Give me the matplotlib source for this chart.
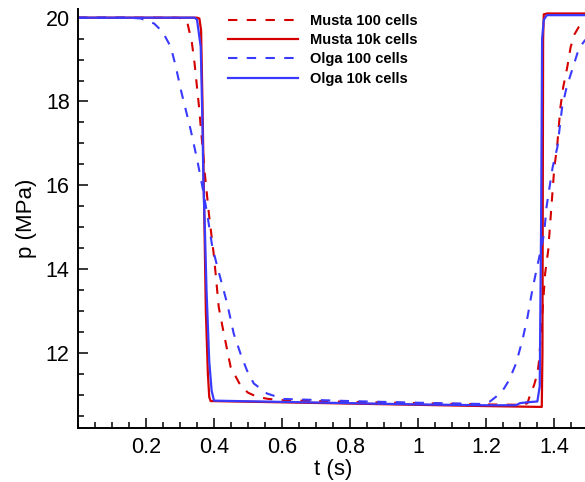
import numpy as np
import matplotlib
matplotlib.use('Agg')
import matplotlib.pyplot as plt
from matplotlib.ticker import MultipleLocator

plt.rcParams['font.family'] = ['Liberation Sans', 'DejaVu Sans']

# Musta, 100 cells (red dashed)
t_musta_100 = [0.0, 0.29, 0.312, 0.322, 0.335, 0.343, 0.349, 0.356, 0.361, 0.367, 0.373,
               0.385, 0.400, 0.414, 0.427, 0.449, 0.478, 0.500, 0.527, 0.560, 0.605,
               0.8, 1.0, 1.2, 1.31, 1.322, 1.332, 1.341, 1.351, 1.356, 1.362, 1.368,
               1.374, 1.383, 1.392, 1.401, 1.409, 1.414, 1.419, 1.427, 1.439, 1.449,
               1.460, 1.473, 1.49, 1.51]
p_musta_100 = [20.0, 20.0, 19.98, 19.87, 19.4, 18.9, 18.42, 17.87, 17.39, 16.85, 16.28,
               15.32, 14.3, 13.09, 12.54, 11.66, 11.22, 11.05, 10.95, 10.9, 10.87,
               10.83, 10.8, 10.77, 10.76, 10.8, 11.06, 11.22, 11.5, 11.8, 12.5, 13.2,
               13.9, 14.45, 15.45, 16.43, 16.91, 17.39, 17.87, 18.34, 18.82, 19.3,
               19.6, 19.78, 19.92, 19.98]

# Musta, 10k cells (red solid)
t_musta_10k = [0.0, 0.350, 0.357, 0.362, 0.366, 0.371, 0.376, 0.382, 0.386, 0.390,
               0.6, 0.8, 1.0, 1.2, 1.364, 1.366, 1.368, 1.370, 1.38, 1.51]
p_musta_10k = [20.0, 20.0, 19.98, 19.7, 18.0, 15.5, 13.0, 11.5, 10.95, 10.85,
               10.82, 10.79, 10.76, 10.73, 10.71, 12.0, 19.5, 20.08, 20.1, 20.1]

# Olga, 100 cells (blue dashed)
t_olga_100 = [0.0, 0.15, 0.185, 0.224, 0.249, 0.273, 0.288, 0.303, 0.317, 0.332, 0.351,
              0.366, 0.380, 0.395, 0.41, 0.439, 0.458, 0.478, 0.497, 0.517, 0.556,
              0.605, 0.8, 1.0, 1.19, 1.21, 1.229, 1.253, 1.268, 1.288, 1.307, 1.322,
              1.336, 1.349, 1.361, 1.371, 1.378, 1.387, 1.396, 1.410, 1.417, 1.424,
              1.437, 1.456, 1.473, 1.49, 1.51]
p_olga_100 = [20.0, 20.0, 19.98, 19.86, 19.66, 19.3, 18.82, 18.26, 17.8, 17.3, 16.59,
              15.96, 15.32, 14.53, 14.05, 13.17, 12.46, 11.98, 11.58, 11.27, 11.03,
              10.9, 10.85, 10.81, 10.78, 10.83, 10.95, 11.15, 11.35, 11.74, 12.3, 12.85,
              13.49, 14.0, 14.45, 14.85, 15.48, 15.96, 16.43, 16.91, 17.39, 17.87,
              18.34, 18.82, 19.26, 19.45, 19.6]

# Olga, 10k cells (blue solid)
t_olga_10k = [0.0, 0.343, 0.350, 0.356, 0.361, 0.366, 0.369, 0.373, 0.378, 0.386, 0.393,
              0.400, 0.6, 0.8, 1.0, 1.2, 1.288, 1.30, 1.32, 1.351, 1.358, 1.362,
              1.365, 1.370, 1.379, 1.51]
p_olga_10k = [20.0, 20.0, 19.95, 19.6, 19.3, 17.5, 16.0, 15.0, 13.5, 11.8, 11.1,
              10.86, 10.83, 10.8, 10.77, 10.75, 10.75, 10.8, 10.82, 10.84, 11.2, 15.0,
              19.5, 19.95, 20.06, 20.06]

labels = ['Musta 100 cells', 'Musta 10k cells', 'Olga 100 cells', 'Olga 10k cells']

red = '#d40000'
blue = '#3a3aff'

fig = plt.figure(figsize=(5.85, 4.82), dpi=100)
ax = fig.add_axes([78 / 585, 1 - 428.3 / 482, 510 / 585, 419 / 482])

ax.plot(t_musta_100, p_musta_100, color=red, lw=1.5, dashes=(4.5, 4.5), label=labels[0])
ax.plot(t_musta_10k, p_musta_10k, color=red, lw=1.6, label=labels[1])
ax.plot(t_olga_100, p_olga_100, color=blue, lw=1.5, dashes=(4.5, 4.5), label=labels[2])
ax.plot(t_olga_10k, p_olga_10k, color=blue, lw=1.6, label=labels[3])

ax.set_xlim(0, 1.5)
ax.set_ylim(10.2, 20.2)
ax.set_xticks([0.2, 0.4, 0.6, 0.8, 1.0, 1.2, 1.4])
ax.set_xticklabels(['0.2', '0.4', '0.6', '0.8', '1', '1.2', '1.4'])
ax.xaxis.set_minor_locator(MultipleLocator(0.05))
ax.set_yticks([12, 14, 16, 18, 20])
ax.yaxis.set_minor_locator(MultipleLocator(0.5))

ax.spines['top'].set_visible(False)
ax.spines['right'].set_visible(False)
for s in ['left', 'bottom']:
    ax.spines[s].set_linewidth(1.4)
ax.tick_params(which='both', direction='in', width=1.1, labelsize=15.5, pad=6)
ax.tick_params(which='major', length=7)
ax.tick_params(which='minor', length=4.3)

ax.set_xlabel('t (s)', fontsize=16, labelpad=1)
ax.set_ylabel('p (MPa)', fontsize=16, labelpad=6)

ax.legend(loc='upper left', bbox_to_anchor=(228 / 585, 1 - 14 / 482),
          bbox_transform=fig.transFigure, frameon=False, borderpad=0,
          borderaxespad=0, handlelength=4.8, handletextpad=0.8, labelspacing=0.36,
          prop={'size': 10.5, 'weight': 'bold'})

fig.savefig('out.png', dpi=100)
